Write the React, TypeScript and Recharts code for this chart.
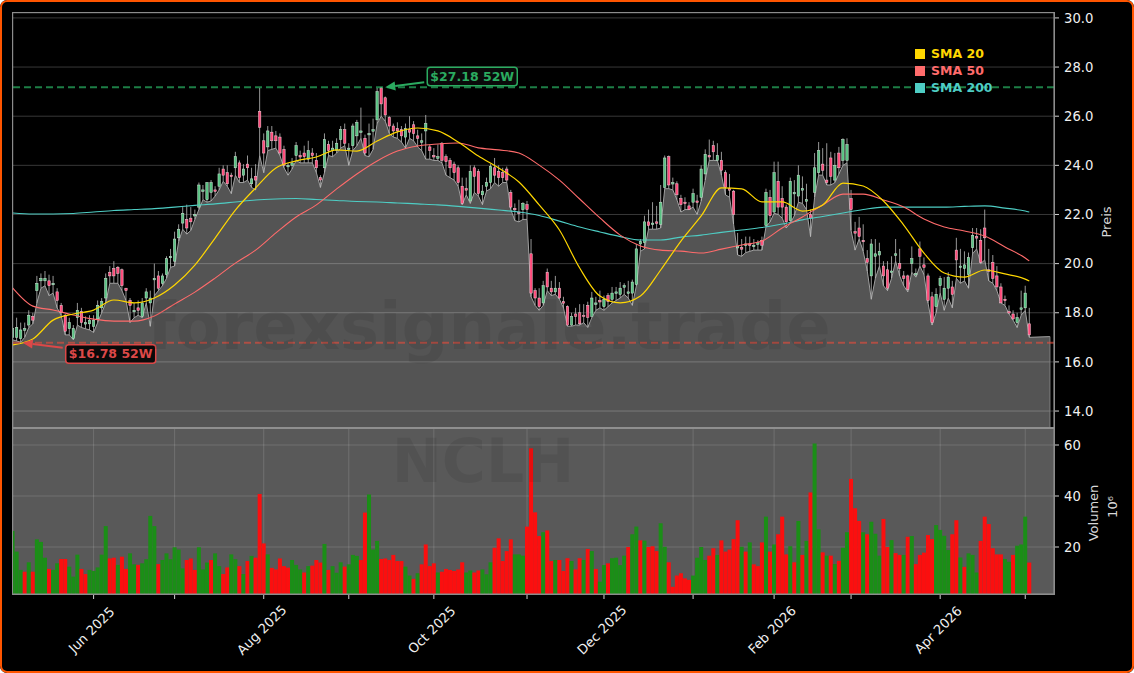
import React from "react";
import {
  ComposedChart, Area, Bar, Line, XAxis, YAxis, CartesianGrid, ReferenceLine,
  ReferenceDot, ReferenceArea,
} from "recharts";

const opens = [
  17.0,17.0,16.95,17.3,17.5,17.85,18.9,19.3,19.3,19.3,
  19.2,18.85,18.3,17.9,17.35,16.95,17.8,18.05,17.6,17.55,
  17.45,17.75,18.2,18.6,19.65,19.8,19.85,19.75,19.0,18.5,
  18.1,18.2,17.85,18.6,18.4,19.4,19.5,19.2,19.55,20.25,
  20.1,21.05,21.65,21.8,21.85,21.95,22.3,23.0,22.6,22.9,
  23.0,23.15,23.85,23.7,23.6,23.9,24.1,23.6,24.05,23.25,
  23.55,26.2,25.0,24.75,25.35,25.2,25.15,24.65,24.0,24.0,
  24.4,24.4,24.5,24.25,24.5,24.2,23.5,23.9,24.85,24.6,
  24.6,25.05,25.45,24.7,24.8,25.2,25.4,25.1,25.3,25.45,
  25.85,27.15,26.75,25.95,25.6,25.5,25.45,25.15,25.45,25.65,
  25.2,25.0,25.4,24.75,24.4,24.3,24.9,24.35,24.2,24.05,
  23.9,23.15,23.05,22.55,23.9,23.75,22.8,23.15,23.3,23.9,
  23.75,23.7,23.85,22.9,22.25,22.1,22.2,22.4,20.4,18.9,
  18.6,18.4,19.65,19.0,18.85,19.0,18.45,18.25,17.5,17.95,
  18.0,17.9,18.3,17.85,18.4,18.5,18.25,18.7,18.55,18.85,
  18.75,19.05,18.85,18.8,19.15,20.8,20.85,21.7,21.65,21.7,
  21.6,23.1,24.35,23.3,23.25,22.65,22.5,22.35,22.5,22.55,
  22.7,23.65,24.4,24.8,24.2,24.2,23.7,23.05,22.95,20.7,
  20.65,20.75,20.8,20.75,20.8,20.95,21.55,22.7,22.1,23.35,
  22.65,22.3,21.75,22.9,22.75,23.05,22.6,22.0,22.9,23.7,
  24.05,23.4,24.3,23.4,24.5,24.2,24.2,22.65,21.3,21.45,
  20.95,20.2,19.5,20.3,20.35,19.9,19.75,19.7,20.4,20.0,
  19.5,19.5,20.0,19.6,20.6,19.95,19.5,18.65,18.25,19.1,
  18.55,19.0,19.05,20.55,19.9,19.8,19.55,20.65,21.1,20.95,
  21.45,19.75,20.05,19.5,19.05,18.55,18.05,17.95,17.6,18.2,
  18.2,17.55,
];

const closes = [
  17.35,17.4,17.3,17.35,17.9,17.7,19.2,19.4,19.4,19.1,
  19.2,18.5,18.0,17.25,17.6,17.35,18.1,17.6,17.6,17.7,
  17.7,18.3,18.45,19.4,19.5,19.5,19.6,19.1,18.9,18.3,
  18.1,18.1,18.4,18.85,18.6,19.4,19.0,19.5,20.2,20.3,
  21.0,21.4,22.05,21.45,21.7,22.0,23.2,23.0,23.3,23.3,
  22.95,23.65,23.6,23.25,23.55,24.35,23.5,23.85,23.9,23.45,
  23.4,25.55,24.5,25.4,25.0,25.0,24.5,24.0,24.0,24.1,
  24.8,24.35,24.35,24.6,24.4,23.9,23.4,25.05,24.6,24.7,
  24.9,25.45,24.9,24.7,25.6,25.75,25.4,24.5,25.3,25.45,
  27.0,26.5,26.05,25.6,25.4,25.4,25.2,25.5,25.35,25.3,
  25.1,25.0,25.7,24.6,24.35,24.35,24.2,24.15,23.9,23.7,
  23.3,22.45,23.0,23.75,23.55,22.85,22.95,23.3,23.95,23.6,
  23.5,23.5,23.4,22.3,22.2,22.05,22.45,22.2,18.8,18.6,
  18.25,19.1,19.05,18.85,19.0,18.6,18.4,17.5,17.85,17.85,
  17.55,17.85,17.8,18.6,18.4,18.45,18.55,18.45,18.8,18.85,
  19.0,19.1,18.85,19.25,20.6,20.9,21.7,21.55,21.65,21.65,
  22.5,24.3,23.2,23.3,22.8,22.4,22.45,22.2,22.85,22.5,
  23.85,24.45,24.35,24.55,24.4,23.8,23.1,23.0,22.0,20.7,
  20.6,20.8,20.75,20.75,20.85,20.75,22.9,21.95,23.7,22.3,
  22.3,21.7,23.35,22.9,23.6,23.05,22.6,21.85,23.9,24.6,
  23.8,23.3,23.55,24.0,23.9,25.05,24.85,22.2,21.25,21.1,
  20.9,20.05,20.8,20.4,20.5,19.5,19.0,19.7,20.4,19.8,
  19.4,18.95,20.2,19.6,20.3,19.85,18.5,17.6,18.75,19.4,
  19.0,19.45,18.75,20.15,19.9,19.95,20.25,21.15,21.05,20.05,
  21.05,19.7,19.4,19.05,18.4,18.5,18.0,17.75,17.8,18.2,
  18.8,17.1,
];

const highs = [
  17.7,17.8,17.6,17.6,18.1,18.0,19.5,19.6,19.7,19.55,
  19.5,19.0,18.4,17.95,17.8,17.5,18.4,18.2,17.85,17.9,
  17.9,18.5,18.6,19.6,19.9,20.1,19.9,19.8,19.0,18.6,
  18.4,18.5,18.6,19.0,18.9,20.0,19.7,19.6,20.3,20.6,
  21.3,21.6,22.3,22.4,22.3,22.2,23.3,23.2,23.3,23.4,
  23.15,23.9,24.0,24.0,23.7,24.55,24.2,24.05,24.4,23.9,
  24.05,27.15,25.3,25.6,25.6,25.4,25.3,24.8,24.1,24.3,
  24.95,24.6,24.8,25.0,24.7,24.5,23.6,25.3,25.0,25.0,
  25.1,25.6,25.7,24.9,25.7,25.85,26.35,25.25,25.7,25.9,
  27.15,27.18,26.8,26.0,25.7,25.75,25.6,25.7,26.0,25.8,
  25.45,25.3,26.05,24.85,24.7,24.85,24.95,24.45,24.3,24.15,
  24.0,23.5,23.5,24.0,24.0,23.85,23.2,23.5,24.05,24.3,
  24.0,23.9,23.95,23.0,22.45,22.6,22.5,22.55,21.0,19.0,
  19.0,19.3,19.8,19.3,19.5,19.25,18.65,18.3,18.0,18.2,
  18.35,18.35,18.45,18.85,18.65,18.9,18.7,18.8,19.05,19.05,
  19.25,19.2,19.3,19.35,20.8,21.0,21.95,22.2,22.5,22.35,
  23.2,24.4,24.4,23.5,23.35,22.8,22.7,22.5,23.05,22.8,
  24.0,24.65,25.05,25.0,24.9,24.55,23.8,23.65,23.0,21.25,
  21.0,21.1,21.1,21.0,20.95,21.1,23.05,23.0,24.15,24.15,
  23.15,22.4,23.5,23.4,24.0,23.55,23.25,22.2,24.5,24.95,
  24.7,24.9,24.55,24.5,24.75,25.1,25.1,23.0,21.7,21.9,
  21.6,20.55,21.0,21.0,20.85,20.1,20.1,20.3,21.0,20.6,
  19.7,19.55,20.7,19.8,20.9,20.25,19.6,18.85,19.0,19.5,
  19.45,19.65,19.3,21.05,20.6,20.5,20.45,21.45,21.45,21.4,
  22.2,20.6,20.35,19.9,19.2,18.7,18.3,18.1,18.0,18.9,
  19.1,18.2,
];

const lows = [
  16.9,16.85,16.8,17.0,17.4,17.55,18.4,19.0,19.1,18.7,
  18.8,18.2,17.9,17.1,17.1,16.9,17.5,17.4,17.35,17.3,
  17.2,17.6,18.0,18.4,19.2,19.2,19.2,18.9,18.5,17.6,
  17.8,17.9,17.8,18.4,17.45,18.7,18.9,19.1,19.4,19.85,
  19.9,20.9,21.4,21.2,21.35,21.8,22.2,22.6,22.5,22.55,
  22.75,23.0,23.35,23.15,22.85,23.6,23.3,23.3,23.4,23.1,
  23.0,24.4,23.7,24.6,24.65,24.7,24.4,23.9,23.6,23.85,
  24.2,24.1,24.1,24.1,24.1,23.7,23.1,23.7,24.4,24.35,
  24.5,24.7,24.8,24.0,24.6,24.8,25.1,24.4,24.35,24.65,
  25.7,26.0,25.8,25.3,25.15,25.1,24.95,24.7,25.1,25.0,
  24.75,24.6,24.25,24.25,24.2,24.2,24.1,23.6,23.5,23.4,
  23.15,22.4,22.8,22.45,22.9,22.75,22.4,22.95,23.05,23.3,
  23.15,23.3,23.3,22.2,21.75,21.7,21.8,21.8,18.65,18.3,
  18.1,18.3,18.9,18.7,18.75,18.55,18.2,17.45,17.45,17.5,
  17.5,17.6,17.4,17.8,18.1,18.2,18.1,18.25,18.4,18.5,
  18.6,18.75,18.6,18.3,19.1,20.5,20.6,21.4,21.4,21.4,
  21.45,23.05,23.05,23.0,22.6,22.1,22.2,22.2,22.3,22.0,
  22.55,23.4,24.2,24.2,24.2,23.6,22.8,22.7,21.6,20.35,
  20.3,20.45,20.5,20.55,20.55,20.55,21.5,21.7,22.05,22.0,
  21.85,21.45,21.65,21.95,22.5,22.45,22.2,21.1,22.7,23.6,
  23.6,23.2,23.2,23.3,23.65,24.0,24.1,21.35,20.55,21.0,
  20.5,19.7,18.55,19.4,19.9,19.1,18.9,19.4,20.1,19.5,
  19.1,18.85,19.65,19.45,19.9,19.55,18.4,17.5,18.0,18.8,
  18.1,18.6,18.2,19.4,19.2,19.3,19.0,20.4,20.6,20.0,
  20.15,19.3,19.2,18.9,18.4,18.3,17.95,17.7,17.4,17.9,
  18.1,17.0,
];

const volumes = [
  26.3,18.2,11,10.3,14,10.3,23,22,15.8,11.4,
  11,13.6,15.3,15.3,12.3,8.4,17,11.4,9.4,11,
  10.6,12,17,28.2,15.5,15.8,13,16.2,11.4,17.5,
  13.2,13,13.6,15.2,32.2,28.2,13.3,14.9,17.5,15.2,
  19.9,19,11.6,14.9,15.5,11,19.9,11.2,13.9,14.9,
  17.5,12.5,9.4,12,17.1,15.2,12.5,9.4,14.5,16.5,
  15.8,40.8,21.4,17.1,11.8,11.2,15.5,12.5,11.9,14.9,
  13,11.2,10,12.5,12.7,14.9,13.9,21.2,11,12.5,
  9.9,14,12.3,13.2,16.9,16.5,14.9,33.5,40.6,19,
  22.4,15.3,15.5,14.9,16.9,14.5,14.5,12.3,8.8,7.5,
  9.7,13.2,21,12.5,13.6,10,10.3,11.4,11,10.6,
  11.2,14,10,10.8,10,10.8,11.2,9.3,14,19.7,
  23.4,14.5,18.4,23,17.1,17.1,16.6,28,58.7,33.6,
  24.3,25.8,26.5,14.5,14.9,14.9,10.6,15.6,14.5,11.2,
  15.6,14.9,19.2,18.4,11.4,6.4,12.9,13.6,15.6,15.8,
  12.9,16.6,20,25,28,22.6,22.5,20,20.3,18.4,
  29.3,20.1,14,4.4,8.8,9.7,7.7,7.1,8.8,15.8,
  20,14.9,16.6,19.5,16.9,22.6,18.2,19,23.1,30.5,
  20.1,18.2,21.8,13.2,12.5,21.8,31.9,18.2,21,25,
  31.9,17.1,20.3,14,30.2,16.9,22.4,41.4,60.6,26.9,
  17.9,16.6,16.6,13.3,14.6,19.7,25.8,46.7,35.2,30.2,
  25.8,25,29.9,25.2,16.6,31,20,22.7,17.6,16.9,
  16.9,24,24.3,13.3,16.9,17.8,24.7,23.1,28.6,26.7,
  24.4,18.8,25,30.5,15.9,12.2,17.5,16.9,10,22.4,
  31.9,29,19.5,17.1,17.1,15.3,14.2,16.9,20.5,21,
  31.9,13.9,
];

// g = green bar, r = red bar, one letter per trading day
const volumeSides = (
  "gggrgrgggr" + "ggrrgggrrg" + "ggggrrgrrg" + "grggggrggg" + "gggrrrgggr" +
  "ggrrggrgrg" + "rrrgrrrrrg" + "ggrgrrrgrg" + "ggrgggrrgg" + "grrrrrrggr" +
  "grrrrgrrrr" + "rrggrrgggr" + "rrrrgggrrr" + "rgrrgrrrgr" + "rgrgrggrgg" +
  "ggrggrgrrr" + "ggrrrrrrgg" + "ggrrgrrrrr" + "grgrrrgrgr" + "rrgrgrgrgg" +
  "rgrgrggrrr" + "grgggrrgrr" + "grgrrrrrgg" + "ggrrgrgggr" + "rrrrrggrgg" +
  "gr"
).split("");

// moving averages read every 5th day
const smaDays = [
  0,5,10,15,20,25,30,35,40,45,
  50,55,60,65,70,75,80,85,90,95,
  100,105,110,115,120,125,130,135,140,145,
  150,155,160,165,170,175,180,185,190,195,
  200,205,210,215,220,225,230,235,240,245,
  250,251,
];
const sma20 = [
  16.69,16.93,17.70,17.95,18.11,18.52,18.40,18.60,19.13,19.94,
  21.04,22.18,23.08,23.89,24.18,24.34,24.63,24.58,24.99,25.36,
  25.52,25.40,24.95,24.38,23.89,23.32,22.39,21.37,19.82,18.68,
  18.40,18.68,19.74,20.92,21.94,23.08,23.04,22.51,22.51,22.14,
  22.39,23.28,23.16,22.55,21.57,20.43,19.62,19.45,19.74,19.58,
  19.37,19.29,
];
const sma50 = [
  19.01,18.27,18.11,17.91,17.74,17.66,17.66,17.87,18.36,18.84,
  19.41,20.02,20.55,21.25,21.90,22.39,23.04,23.65,24.18,24.58,
  24.79,24.87,24.91,24.71,24.63,24.50,24.01,23.40,22.63,21.86,
  21.16,20.72,20.55,20.51,20.43,20.59,20.76,20.92,21.45,21.90,
  22.39,22.83,22.83,22.59,22.30,21.82,21.49,21.33,21.12,20.68,
  20.23,20.11,
];
const sma200 = [
  22.06,22.02,22.02,22.04,22.10,22.16,22.20,22.24,22.30,22.37,
  22.43,22.51,22.59,22.63,22.65,22.61,22.57,22.53,22.51,22.47,
  22.43,22.39,22.33,22.26,22.18,22.10,21.96,21.73,21.49,21.29,
  21.10,20.96,20.96,21.08,21.16,21.27,21.37,21.47,21.61,21.78,
  21.92,22.06,22.20,22.30,22.30,22.30,22.30,22.33,22.35,22.26,
  22.14,22.10,
];

const xTicks = [20, 40, 62, 83, 104, 127, 146, 168, 188, 207, 229, 250];
const xTickLabels = [
  "Jun 2025", "", "Aug 2025", "", "Oct 2025", "", "Dec 2025", "", "Feb 2026", "", "Apr 2026", "",
];
const priceTicks = [14, 16, 18, 20, 22, 24, 26, 28, 30];
const volumeTicks = [20, 40, 60];
const high52w = 27.18;
const low52w = 16.78;
const tailDay = 256.1;
const tailLow = 17.03;

const legendItems = [
  { name: "SMA 20", color: "#FFD700" },
  { name: "SMA 50", color: "#FF6B6B" },
  { name: "SMA 200", color: "#4ECDC4" },
];

const priceRows: any[] = opens.map((open, i) => ({
  day: i, open, close: closes[i], high: highs[i], low: lows[i],
}));
smaDays.forEach((day, k) => {
  priceRows[day].sma20 = sma20[k];
  priceRows[day].sma50 = sma50[k];
  priceRows[day].sma200 = sma200[k];
});
priceRows.push({ day: tailDay, low: tailLow });

const volumeRows = volumes.map((volume, i) => ({ day: i, volume, side: volumeSides[i] }));

const xDomain: [number, number] = [0.1, 257.1];
const priceDomain: [number, number] = [13.31, 30.2];
const volumeDomain: [number, number] = [1.57, 66.67];

const FONT = "'DejaVu Sans', sans-serif";
const SPINE = "#8c8c8c";
const UP = "#58c282";
const DOWN = "#ff4a7a";

// wick and body drawn inside the [low, high] box the Bar hands over
function Candle({ x, y, width, height, payload }: any) {
  if (payload.high == null) return null;
  const k = height / (payload.high - payload.low);
  const mid = x + width / 2;
  const top = Math.max(payload.open, payload.close);
  const bottom = Math.min(payload.open, payload.close);
  const bodyY = y + (payload.high - top) * k;
  const bodyH = Math.max((top - bottom) * k, 1.5);
  const up = payload.close >= payload.open;
  return (
    <g>
      <line x1={mid} x2={mid} y1={y} y2={y + height} stroke="#bcbcbc" strokeWidth={0.8} />
      <rect
        x={mid - 1.2} y={bodyY} width={2.4} height={bodyH}
        fill={up ? UP : DOWN} stroke={up ? "#d0e8d8" : "#f6ccd8"} strokeWidth={0.5}
      />
    </g>
  );
}

function VolumeBar({ x, y, width, height, payload }: any) {
  return <rect x={x} y={y} width={width} height={height} fill={payload.side === "g" ? "#1b8e17" : "#fb0f0f"} />;
}

// arrow from the label box to the marked price, then the box with its text
function PriceNote({ cx, cy, text, color, tailX, tailY, boxX, boxY }: any) {
  const angle = Math.atan2(tailY, tailX);
  const head = 10;
  const wing = 4.5;
  const bx = cx + Math.cos(angle) * head;
  const by = cy + Math.sin(angle) * head;
  const nx = -Math.sin(angle) * wing;
  const ny = Math.cos(angle) * wing;
  return (
    <g>
      <line x1={bx} y1={by} x2={cx + tailX} y2={cy + tailY} stroke={color} strokeWidth={2} />
      <polygon points={`${cx},${cy} ${bx + nx},${by + ny} ${bx - nx},${by - ny}`} fill={color} />
      <rect x={cx + boxX} y={cy + boxY} width={90} height={18.5} rx={3} fill="#0a0a0a" stroke={color} strokeWidth={1.5} />
      <text
        x={cx + boxX + 45} y={cy + boxY + 13.7} textAnchor="middle"
        fill={color} fontFamily={FONT} fontWeight="bold" fontSize={12.5}
      >
        {text}
      </text>
    </g>
  );
}

function MonthTick({ x, y, payload }: any) {
  const label = xTickLabels[xTicks.indexOf(payload.value)];
  if (!label) return null;
  const cx = x - 2;
  const cy = y + 29;
  return (
    <text
      x={cx} y={cy} textAnchor="middle" dominantBaseline="central"
      transform={`rotate(-45 ${cx} ${cy})`}
      fill="#f0f0f0" fontFamily={FONT} fontSize={13.2}
    >
      {label}
    </text>
  );
}

const axisText = { fill: "#f0f0f0", fontFamily: FONT, fontSize: 13.2 };

export default function App() {
  return (
    <div
      style={{
        position: "relative", width: 1134, height: 673, boxSizing: "border-box",
        background: "#000", borderRadius: 7, overflow: "hidden",
      }}
    >
      <style>{"body{margin:0}"}</style>

      <div style={{ position: "absolute", left: 0, top: 0 }}>
        <ComposedChart
          width={1134} height={429} data={priceRows}
          margin={{ top: 13, right: 0, bottom: 1, left: 13 }}
        >
          <CartesianGrid stroke="rgba(255,255,255,0.22)" strokeWidth={1} />
          <XAxis
            dataKey="day" type="number" domain={xDomain} ticks={xTicks} interval={0} allowDataOverflow
            height={0} tick={false} axisLine={false} tickLine={false}
          />
          <YAxis
            orientation="right" width={80} domain={priceDomain} ticks={priceTicks} interval={0} allowDataOverflow
            tickFormatter={(v: number) => v.toFixed(1)} tick={axisText}
            tickLine={{ stroke: "#d0d0d0" }} tickSize={5} tickMargin={5} axisLine={{ stroke: SPINE }}
          />
          <Area
            dataKey="low" type="linear" isAnimationActive={false} dot={false}
            fill="#ffffff" fillOpacity={0.33} stroke="#a0a0a0" strokeWidth={1} connectNulls
          />
          <ReferenceLine
            segment={[{ x: tailDay, y: tailLow }, { x: tailDay, y: priceDomain[0] }]}
            stroke="#808080" strokeWidth={1}
          />
          <Bar
            dataKey={(d: any) => (d.high == null ? null : [d.low, d.high])}
            barSize={4} shape={Candle} isAnimationActive={false}
          />
          <Line dataKey="sma200" type="monotone" stroke="#4ECDC4" strokeWidth={1.1} dot={false} connectNulls isAnimationActive={false} />
          <Line dataKey="sma50" type="monotone" stroke="#FF6B6B" strokeWidth={1.1} dot={false} connectNulls isAnimationActive={false} />
          <Line dataKey="sma20" type="monotone" stroke="#FFD700" strokeWidth={1.2} dot={false} connectNulls isAnimationActive={false} />
          <ReferenceLine y={high52w} stroke="#2ecc71" strokeOpacity={0.62} strokeWidth={2} strokeDasharray="7 4" />
          <ReferenceLine y={low52w} stroke="#e74c3c" strokeOpacity={0.62} strokeWidth={2} strokeDasharray="7 4" />
          <ReferenceDot
            x={92} y={high52w} r={0}
            shape={(p: any) => (
              <PriceNote {...p} text="$27.18 52W" color="#2bab60" tailX={39} tailY={-5} boxX={42} boxY={-20} />
            )}
          />
          <ReferenceDot
            x={2.5} y={low52w} r={0}
            shape={(p: any) => (
              <PriceNote {...p} text="$16.78 52W" color="#dc4848" tailX={40} tailY={5} boxX={43} boxY={2} />
            )}
          />
        </ComposedChart>
      </div>

      <div style={{ position: "absolute", left: 0, top: 428 }}>
        <ComposedChart
          width={1134} height={245} data={volumeRows}
          margin={{ top: 0, right: 0, bottom: 0, left: 13 }}
        >
          <ReferenceArea
            x1={xDomain[0]} x2={xDomain[1]} y1={volumeDomain[0]} y2={volumeDomain[1]}
            fill="#ffffff" fillOpacity={0.35} stroke="none"
          />
          <CartesianGrid stroke="rgba(255,255,255,0.14)" strokeWidth={1} />
          <XAxis
            dataKey="day" type="number" domain={xDomain} ticks={xTicks} interval={0} allowDataOverflow
            height={79} tick={MonthTick} tickSize={5} axisLine={{ stroke: SPINE }} tickLine={{ stroke: "#d0d0d0" }}
          />
          <YAxis
            orientation="right" width={80} domain={volumeDomain} ticks={volumeTicks} interval={0} allowDataOverflow
            tick={axisText} tickLine={{ stroke: "#d0d0d0" }} tickSize={5} tickMargin={5} axisLine={{ stroke: SPINE }}
          />
          <Bar dataKey="volume" barSize={4} shape={VolumeBar} isAnimationActive={false} />
        </ComposedChart>
      </div>

      {/* pane frames */}
      <div style={{ position: "absolute", left: 12, top: 12, width: 1043, height: 417, boxSizing: "border-box", border: `1px solid ${SPINE}`, pointerEvents: "none" }} />
      <div style={{ position: "absolute", left: 12, top: 427, width: 1043, height: 168, boxSizing: "border-box", border: `1px solid ${SPINE}`, borderTop: "2px solid #8f8f8f", pointerEvents: "none" }} />

      {/* watermarks */}
      <div style={{ position: "absolute", left: 0, width: 978, top: 288, textAlign: "center", fontFamily: FONT, fontWeight: "bold", fontSize: 65.6, color: "rgba(0,0,0,0.08)", whiteSpace: "nowrap", pointerEvents: "none" }}>
        forexsignale.trade
      </div>
      <div style={{ position: "absolute", left: 0, width: 966, top: 426, textAlign: "center", fontFamily: FONT, fontWeight: "bold", fontSize: 60, color: "rgba(0,0,0,0.08)", pointerEvents: "none" }}>
        NCLH
      </div>

      {/* legend */}
      {legendItems.map((item, i) => (
        <div key={item.name} style={{ position: "absolute", left: 915, top: 46 + i * 17, height: 15, display: "flex", alignItems: "center", fontFamily: FONT, fontWeight: "bold", fontSize: 12.5, color: item.color }}>
          <span style={{ display: "inline-block", width: 10, height: 10, background: item.color, marginRight: 6 }} />
          {item.name}
        </div>
      ))}

      {/* axis titles */}
      <div style={{ position: "absolute", left: 1106, top: 222, transform: "translate(-50%,-50%) rotate(-90deg)", fontFamily: FONT, fontSize: 13, color: "#d8d8d8", whiteSpace: "nowrap" }}>
        Preis
      </div>
      <div style={{ position: "absolute", left: 1093, top: 513, transform: "translate(-50%,-50%) rotate(-90deg)", fontFamily: FONT, fontSize: 13, color: "#d8d8d8", whiteSpace: "nowrap" }}>
        Volumen
      </div>
      <div style={{ position: "absolute", left: 1112, top: 507, transform: "translate(-50%,-50%) rotate(-90deg)", fontFamily: FONT, fontSize: 13, color: "#d8d8d8", whiteSpace: "nowrap" }}>
        10⁶
      </div>

      {/* outer frame */}
      <div style={{ position: "absolute", inset: 0, border: "2px solid #FF5500", borderRadius: 7, pointerEvents: "none" }} />
    </div>
  );
}
